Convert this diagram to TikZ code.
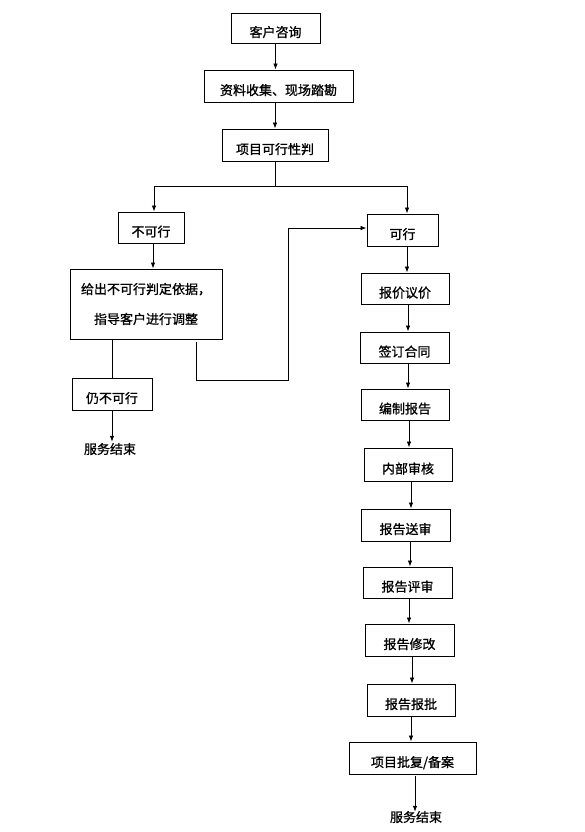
\documentclass[tikz,border=0pt]{standalone}
\usepackage{fontspec}
\setmainfont{Noto Sans CJK SC}[FakeBold=0.9]
\usepackage{tikz}
\usetikzlibrary{arrows.meta, positioning, calc}
\tikzset{
  kuang/.style={draw=black, line width=0.9pt, fill=white, align=center, font=\fontsize{13}{30}\selectfont, inner sep=0pt},
  dan/.style={kuang, text height=18pt, text depth=0pt},
  wenzi/.style={align=center, font=\fontsize{13}{16}\selectfont, inner sep=1pt},
  xian/.style={line width=0.8pt, color=black},
  jiantou/.style={xian, -{Latex[length=6pt,width=4.5pt]}},
}
\begin{document}
\begin{tikzpicture}[x=1pt, y=-1pt]
  \useasboundingbox (0,0) rectangle (584,832);
  % 主流程
  \node[dan, minimum width=89pt, minimum height=30pt] (kh) at (275.5,28) {客户咨询};
  \node[dan, minimum width=149pt, minimum height=32pt] (zl) at (278.5,86) {资料收集、现场踏勘};
  \node[dan, minimum width=106pt, minimum height=32pt] (xm) at (275,145) {项目可行性判};
  \draw[jiantou] (kh) -- (kh |- zl.north);
  \draw[jiantou] (xm |- zl.south) -- (xm.north);
  % 分支
  \node[dan, minimum width=66pt, minimum height=31pt] (bkx) at (151,227.5) {不可行};
  \node[dan, minimum width=71pt, minimum height=32pt] (kx) at (402.5,230) {可行};
  \draw[xian] (xm.south) -- ++(0,25) coordinate (fz);
  \draw[jiantou] (fz) -| ([xshift=3pt]bkx.north);
  \draw[jiantou] (fz) -| ([xshift=4.5pt]kx.north);
  % 不可行一侧
  \node[kuang, minimum width=152pt, minimum height=70pt] (gc) at (146,304) {给出不可行判定依据，\\指导客户进行调整};
  \node[dan, minimum width=80pt, minimum height=32pt] (rbk) at (112,394) {仍不可行};
  \node[wenzi] (js1) at (110,449) {服务结束};
  \draw[jiantou] ([xshift=2pt]bkx.south) -- ([xshift=2pt]bkx.south |- gc.north);
  \draw[xian] (gc.south -| rbk) -- (rbk.north);
  \draw[jiantou] (rbk.south) -- (rbk.south |- js1.north);
  \draw[jiantou] ([xshift=-26pt,yshift=-3pt]gc.south east) -- ++(0,38) -- ++(92,0) |- ([yshift=2pt]kx.west);
  % 可行一侧
  \node[dan, minimum width=88pt, minimum height=31pt] (bj) at (405,288.5) {报价议价};
  \node[dan, minimum width=89pt, minimum height=31pt] (qd) at (404.5,347.5) {签订合同};
  \node[dan, minimum width=88pt, minimum height=31pt] (bz) at (405,404.5) {编制报告};
  \node[dan, minimum width=88pt, minimum height=33pt] (nb) at (408,464.5) {内部审核};
  \node[dan, minimum width=89pt, minimum height=32pt] (ss) at (405.5,525) {报告送审};
  \node[dan, minimum width=89pt, minimum height=31pt] (ps) at (407.5,582.5) {报告评审};
  \node[dan, minimum width=89pt, minimum height=32pt] (xg) at (409.5,640) {报告修改};
  \node[dan, minimum width=88pt, minimum height=32pt] (bp) at (411,700) {报告报批};
  \node[dan, minimum width=127pt, minimum height=32pt] (pf) at (412.5,758) {项目批复/备案};
  \node[wenzi] (js2) at (416,817) {服务结束};
  \draw[jiantou] ([xshift=4.5pt]kx.south) -- ([xshift=4.5pt]kx.south |- bj.north);
  \draw[jiantou] ([xshift=3pt]bj.south) -- ([xshift=3pt]bj.south |- qd.north);
  \draw[jiantou] ([xshift=3.5pt]qd.south) -- ([xshift=3.5pt]qd.south |- bz.north);
  \draw[jiantou] ([xshift=4pt]bz.south) -- ([xshift=4pt]bz.south |- nb.north);
  \draw[jiantou] ([xshift=3pt]nb.south) -- ([xshift=3pt]nb.south |- ss.north);
  \draw[jiantou] ([xshift=4.5pt]ss.south) -- ([xshift=4.5pt]ss.south |- ps.north);
  \draw[jiantou] ([xshift=1.5pt]ps.south) -- ([xshift=1.5pt]ps.south |- xg.north);
  \draw[jiantou] ([xshift=2.5pt]xg.south) -- ([xshift=2.5pt]xg.south |- bp.north);
  \draw[jiantou] (bp.south) -- (bp.south |- pf.north);
  \draw[jiantou] ([xshift=2.5pt,yshift=-2pt]pf.south) -- ([xshift=2.5pt,yshift=-2pt]pf.south |- js2.north);
\end{tikzpicture}
\end{document}
